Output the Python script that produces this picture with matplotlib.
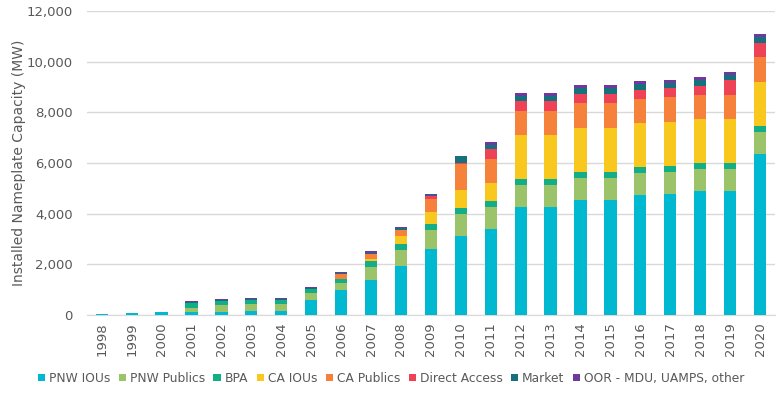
import matplotlib
matplotlib.use("Agg")
import matplotlib.pyplot as plt
from matplotlib.patches import Patch
import numpy as np

years = [str(y) for y in range(1998, 2021)]
pnw_ious = [40, 70, 100, 119, 119, 172, 172, 594, 990, 1386, 1934, 2588, 3137, 3411, 4250, 4250, 4540, 4540, 4738, 4777, 4896, 4896, 6343]
pnw_publics = [0, 0, 0, 158, 264, 264, 264, 290, 277, 515, 615, 784, 863, 863, 880, 880, 869, 869, 868, 869, 868, 868, 882]
bpa = [0, 0, 0, 198, 171, 158, 158, 159, 159, 224, 235, 235, 235, 235, 237, 237, 237, 237, 237, 236, 224, 224, 237]
ca_ious = [0, 0, 0, 0, 0, 0, 0, 0, 0, 79, 353, 471, 706, 706, 1737, 1737, 1737, 1737, 1737, 1738, 1750, 1750, 1737]
ca_publics = [0, 0, 0, 0, 0, 0, 0, 0, 184, 212, 235, 510, 1006, 941, 961, 961, 987, 987, 948, 987, 948, 948, 987]
direct_access = [0, 0, 0, 0, 0, 0, 0, 0, 0, 0, 0, 104, 52, 379, 382, 382, 355, 355, 355, 355, 355, 592, 553]
market = [0, 15, 20, 45, 45, 45, 45, 40, 50, 50, 50, 40, 262, 196, 197, 197, 224, 224, 224, 197, 224, 184, 250]
oor = [0, 10, 12, 34, 35, 34, 34, 26, 43, 42, 42, 40, 0, 92, 118, 118, 131, 131, 131, 119, 131, 118, 105]

series_names = ["PNW IOUs", "PNW Publics", "BPA", "CA IOUs", "CA Publics",
                "Direct Access", "Market", "OOR - MDU, UAMPS, other"]
series_vals = [pnw_ious, pnw_publics, bpa, ca_ious, ca_publics, direct_access, market, oor]
colors = ["#00B8D0", "#9BC36A", "#12AE87", "#F8C81E", "#F5813B", "#EE4256", "#17707E", "#6F3A9C"]

fig = plt.figure(figsize=(7.82, 3.94), dpi=100)
ax = fig.add_axes([0.111, 0.2005, 0.88, 0.7715])

x = np.arange(len(years))
bottom = np.zeros(len(years))
for name, vals, c in zip(series_names, series_vals, colors):
    v = np.array(vals, dtype=float)
    ax.bar(x, v, width=0.41, bottom=bottom, color=c, label=name, zorder=3, linewidth=0)
    bottom += v

ax.set_xlim(-0.5, len(years) - 0.5)
ax.set_ylim(0, 12000)
ax.set_yticks(range(0, 12001, 2000))
ax.set_yticklabels([f"{v:,}" for v in range(0, 12001, 2000)])
ax.set_xticks(x)
ax.set_xticklabels(years, rotation=90)
ax.grid(axis="y", color="#D9D9D9", linewidth=1, zorder=0)
for s in ["top", "right", "left"]:
    ax.spines[s].set_visible(False)
ax.spines["bottom"].set_color("#D9D9D9")
ax.tick_params(axis="both", length=0, colors="#595959", labelsize=9.5)
ax.tick_params(axis="y", pad=10)
ax.tick_params(axis="x", pad=5)
ax.set_ylabel("Installed Nameplate Capacity (MW)", color="#595959", fontsize=10)
ax.yaxis.set_label_coords(-0.088, 0.5)

handles = [Patch(facecolor=c, edgecolor="none") for c in colors]
fig.legend(handles, series_names, loc="center", bbox_to_anchor=(0.5, 0.04), ncol=8,
           frameon=False, handlelength=0.6, handleheight=0.6, handletextpad=0.3,
           columnspacing=0.7, prop={"size": 8.8},
           labelcolor="#595959")

fig.savefig("out.png", dpi=100)
